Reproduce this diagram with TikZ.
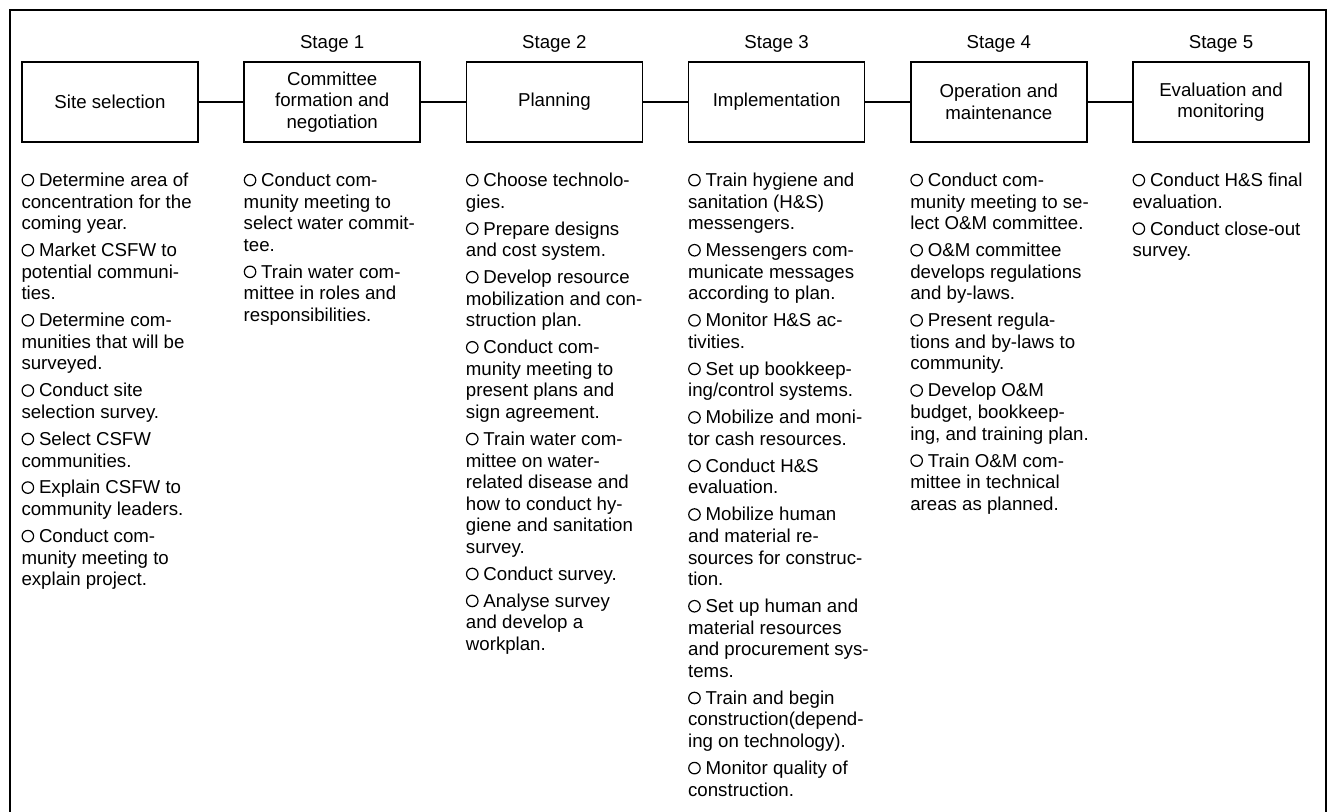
\documentclass[tikz,border=0pt]{standalone}
\usepackage{fontspec}
\setmainfont{Liberation Sans}
\def\colsep{222.2}
\newcommand\bodyfont{\fontsize{14}{16.2}\selectfont}
\newcommand\bul{\tikz[baseline=0pt,x=1pt,y=1pt]\draw[line width=0.9pt] (4.8,4.8) circle[radius=4.3pt];\hspace{3.6pt}}
\newcommand\itm{\\[4pt]\bul}

\begin{document}
\begin{tikzpicture}[
    x=0.75pt, y=-0.75pt, line width=1.1pt,
    stagebox/.style={draw, minimum width=132pt, minimum height=60pt, inner sep=2pt, align=center, font=\bodyfont},
    stagelabel/.style={font=\bodyfont, inner sep=0},
    steps/.style={anchor=north west, align=left, inner sep=0, font=\bodyfont}
  ]
  \useasboundingbox (0,0) rectangle (1332,812);

  % Frame
  \draw (10,812) -- (10,10) -- (1326,10) -- (1326,812);

  % Stage boxes
  \foreach \i/\txt in {0/Site selection, 1/{Committee\\formation and\\negotiation}, 2/Planning,
      3/Implementation, 4/{Operation and\\maintenance}, 5/{Evaluation and\\monitoring}}
    \node[stagebox] (b\i) at (110+\i*\colsep,102) {\txt};

  % Stage labels
  \foreach \i in {1,...,5}
    \node[stagelabel] (s\i) at (110+\i*\colsep,44) {Stage \i};

  % Connect neighbouring boxes
  \foreach \i/\j in {0/1,1/2,2/3,3/4,4/5}
    \draw (b\i) -- (b\j);

  % Activities under each stage
  \node[steps] (l0) at ([yshift=-22.5pt]b0.south west) {\bul Determine area of\\concentration for the\\coming year.%
    \itm Market CSFW to\\potential communi-\\ties.%
    \itm Determine com-\\munities that will be\\surveyed.%
    \itm Conduct site\\selection survey.%
    \itm Select CSFW\\communities.%
    \itm Explain CSFW to\\community leaders.%
    \itm Conduct com-\\munity meeting to\\explain project.};

  \node[steps] (l1) at ([yshift=-22.5pt]b1.south west) {\bul Conduct com-\\munity meeting to\\select water commit-\\tee.%
    \itm Train water com-\\mittee in roles and\\responsibilities.};

  \node[steps] (l2) at ([yshift=-22.5pt]b2.south west) {\bul Choose technolo-\\gies.%
    \itm Prepare designs\\and cost system.%
    \itm Develop resource\\mobilization and con-\\struction plan.%
    \itm Conduct com-\\munity meeting to\\present plans and\\sign agreement.%
    \itm Train water com-\\mittee on water-\\related disease and\\how to conduct hy-\\giene and sanitation\\survey.%
    \itm Conduct survey.%
    \itm Analyse survey\\and develop a\\workplan.};

  \node[steps] (l3) at ([yshift=-22.5pt]b3.south west) {\bul Train hygiene and\\sanitation (H\&S)\\messengers.%
    \itm Messengers com-\\municate messages\\according to plan.%
    \itm Monitor H\&S ac-\\tivities.%
    \itm Set up bookkeep-\\ing/control systems.%
    \itm Mobilize and moni-\\tor cash resources.%
    \itm Conduct H\&S\\evaluation.%
    \itm Mobilize human\\and material re-\\sources for construc-\\tion.%
    \itm Set up human and\\material resources\\and procurement sys-\\tems.%
    \itm Train and begin\\construction(depend-\\ing on technology).%
    \itm Monitor quality of\\construction.};

  \node[steps] (l4) at ([yshift=-22.5pt]b4.south west) {\bul Conduct com-\\munity meeting to se-\\lect O\&M committee.%
    \itm O\&M committee\\develops regulations\\and by-laws.%
    \itm Present regula-\\tions and by-laws to\\community.%
    \itm Develop O\&M\\budget, bookkeep-\\ing, and training plan.%
    \itm Train O\&M com-\\mittee in technical\\areas as planned.};

  \node[steps] (l5) at ([yshift=-22.5pt]b5.south west) {\bul Conduct H\&S final\\evaluation.%
    \itm Conduct close-out\\survey.};
\end{tikzpicture}
\end{document}
